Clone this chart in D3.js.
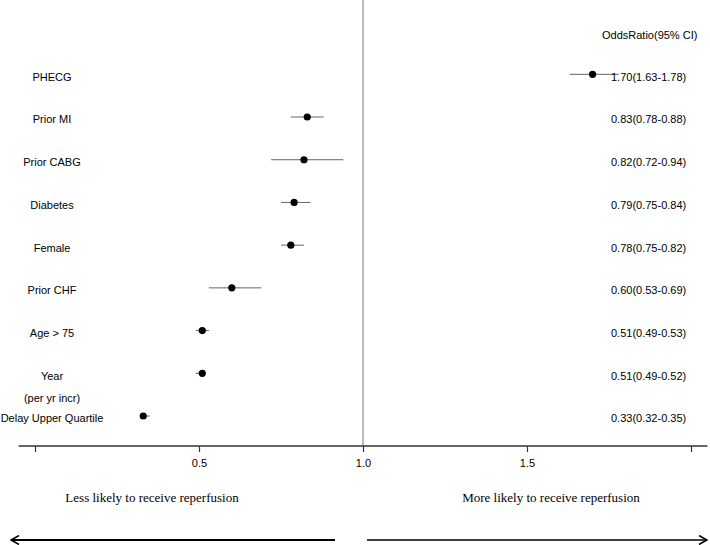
<!DOCTYPE html>
<html>
<head>
<meta charset="utf-8">
<script src="https://cdn.jsdelivr.net/npm/d3@7"></script>
<style>
  body { margin: 0; background: #fff; }
  svg { display: block; }
  text { font-family: Arial, "Liberation Sans", sans-serif; }
</style>
</head>
<body>
<div id="chart"></div>
<script>
// forest plot data
var labels = ["PHECG", "Prior MI", "Prior CABG", "Diabetes", "Female", "Prior CHF", "Age > 75", "Year", "Delay Upper Quartile"];
var subLabels = ["", "", "", "", "", "", "", "(per yr incr)", ""];
var oddsRatio = [1.70, 0.83, 0.82, 0.79, 0.78, 0.60, 0.51, 0.51, 0.33];
var ciLow = [1.63, 0.78, 0.72, 0.75, 0.75, 0.53, 0.49, 0.49, 0.32];
var ciHigh = [1.78, 0.88, 0.94, 0.84, 0.82, 0.69, 0.53, 0.52, 0.35];
var tickValues = [0, 0.5, 1.0, 1.5, 2.0];
var tickLabels = ["", "0.5", "1.0", "1.5", ""];

const width = 710;
const height = 545;
const axisY = 446;

var rows = labels.map(function (d, i) {
  return { label: d, sub: subLabels[i], or: oddsRatio[i], lo: ciLow[i], hi: ciHigh[i] };
});

var x = d3.scaleLinear().domain([0, 2]).range([35, 691]);
var y = d3.scalePoint().domain(labels).range([74.3, 416]);

var svg = d3.select("#chart")
  .append("svg")
  .attr("width", width)
  .attr("height", height);

// reference line at OR = 1
svg.append("line")
  .attr("x1", x(1)).attr("x2", x(1))
  .attr("y1", 0).attr("y2", axisY)
  .attr("stroke", "#777")
  .attr("stroke-width", 1);

// bottom axis
var axis = d3.axisBottom(x)
  .tickValues(tickValues)
  .tickFormat(function (d, i) { return tickLabels[i]; })
  .tickSizeOuter(0)
  .tickSize(6)
  .tickPadding(7);

var gx = svg.append("g")
  .attr("transform", "translate(0," + axisY + ")")
  .call(axis);
gx.select(".domain").remove();
gx.selectAll(".tick line").attr("stroke", "#333").attr("stroke-width", 1.2);
gx.selectAll(".tick text")
  .attr("fill", "#000")
  .style("font-size", "11px")
  .style("font-family", "Arial, 'Liberation Sans', sans-serif");

svg.append("line")
  .attr("x1", x(-0.05)).attr("x2", x(2.05))
  .attr("y1", axisY).attr("y2", axisY)
  .attr("stroke", "#333")
  .attr("stroke-width", 1.3);

// CI whiskers
svg.append("g")
  .selectAll("line")
  .data(rows)
  .enter()
  .append("line")
  .attr("x1", function (d) { return x(d.lo); })
  .attr("x2", function (d) { return x(d.hi); })
  .attr("y1", function (d) { return y(d.label); })
  .attr("y2", function (d) { return y(d.label); })
  .attr("stroke", "#666")
  .attr("stroke-width", 1);

// point estimates
svg.append("g")
  .selectAll("circle")
  .data(rows)
  .enter()
  .append("circle")
  .attr("cx", function (d) { return x(d.or); })
  .attr("cy", function (d) { return y(d.label); })
  .attr("r", 3.6)
  .attr("fill", "#000");

// row labels on the left
var lab = svg.append("g")
  .selectAll("text")
  .data(rows)
  .enter()
  .append("text")
  .attr("x", 52)
  .attr("y", function (d) { return y(d.label) + 2.5; })
  .attr("dy", "0.35em")
  .attr("text-anchor", "middle")
  .style("font-size", "11px")
  .text(function (d) { return d.label; });

svg.append("g")
  .selectAll("text")
  .data(rows.filter(function (d) { return d.sub; }))
  .enter()
  .append("text")
  .attr("x", 52)
  .attr("y", function (d) { return y(d.label) + 25; })
  .attr("dy", "0.35em")
  .attr("text-anchor", "middle")
  .style("font-size", "11px")
  .text(function (d) { return d.sub; });

// odds ratio column
svg.append("text")
  .attr("x", 602)
  .attr("y", 35)
  .attr("dy", "0.35em")
  .style("font-size", "11px")
  .text("OddsRatio(95% CI)");

svg.append("g")
  .selectAll("text")
  .data(rows)
  .enter()
  .append("text")
  .attr("x", 611)
  .attr("y", function (d) { return y(d.label) + 2.5; })
  .attr("dy", "0.35em")
  .style("font-size", "11px")
  .text(function (d) {
    return d.or.toFixed(2) + "(" + d.lo.toFixed(2) + "-" + d.hi.toFixed(2) + ")";
  });

// direction captions
svg.append("text")
  .attr("x", 152)
  .attr("y", 497)
  .attr("dy", "0.35em")
  .attr("text-anchor", "middle")
  .style("font-family", "'Liberation Serif', 'Times New Roman', serif")
  .style("font-size", "13px")
  .text("Less likely to receive reperfusion");

svg.append("text")
  .attr("x", 551)
  .attr("y", 497)
  .attr("dy", "0.35em")
  .attr("text-anchor", "middle")
  .style("font-family", "'Liberation Serif', 'Times New Roman', serif")
  .style("font-size", "13px")
  .text("More likely to receive reperfusion");

// arrows
var defs = svg.append("defs");
defs.append("marker")
  .attr("id", "head")
  .attr("viewBox", "0 0 10 10")
  .attr("refX", 9)
  .attr("refY", 5)
  .attr("markerWidth", 10)
  .attr("markerHeight", 10)
  .attr("markerUnits", "userSpaceOnUse")
  .attr("orient", "auto")
  .append("path")
  .attr("d", "M1,0.5 L9,5 L1,9.5")
  .attr("fill", "none")
  .attr("stroke", "#000")
  .attr("stroke-width", 1.6);

svg.append("line")
  .attr("x1", 335).attr("x2", 11)
  .attr("y1", 540).attr("y2", 540)
  .attr("stroke", "#000")
  .attr("stroke-width", 2)
  .attr("marker-end", "url(#head)");

svg.append("line")
  .attr("x1", 367).attr("x2", 707)
  .attr("y1", 540).attr("y2", 540)
  .attr("stroke", "#000")
  .attr("stroke-width", 1.5)
  .attr("marker-end", "url(#head)");
</script>
</body>
</html>
